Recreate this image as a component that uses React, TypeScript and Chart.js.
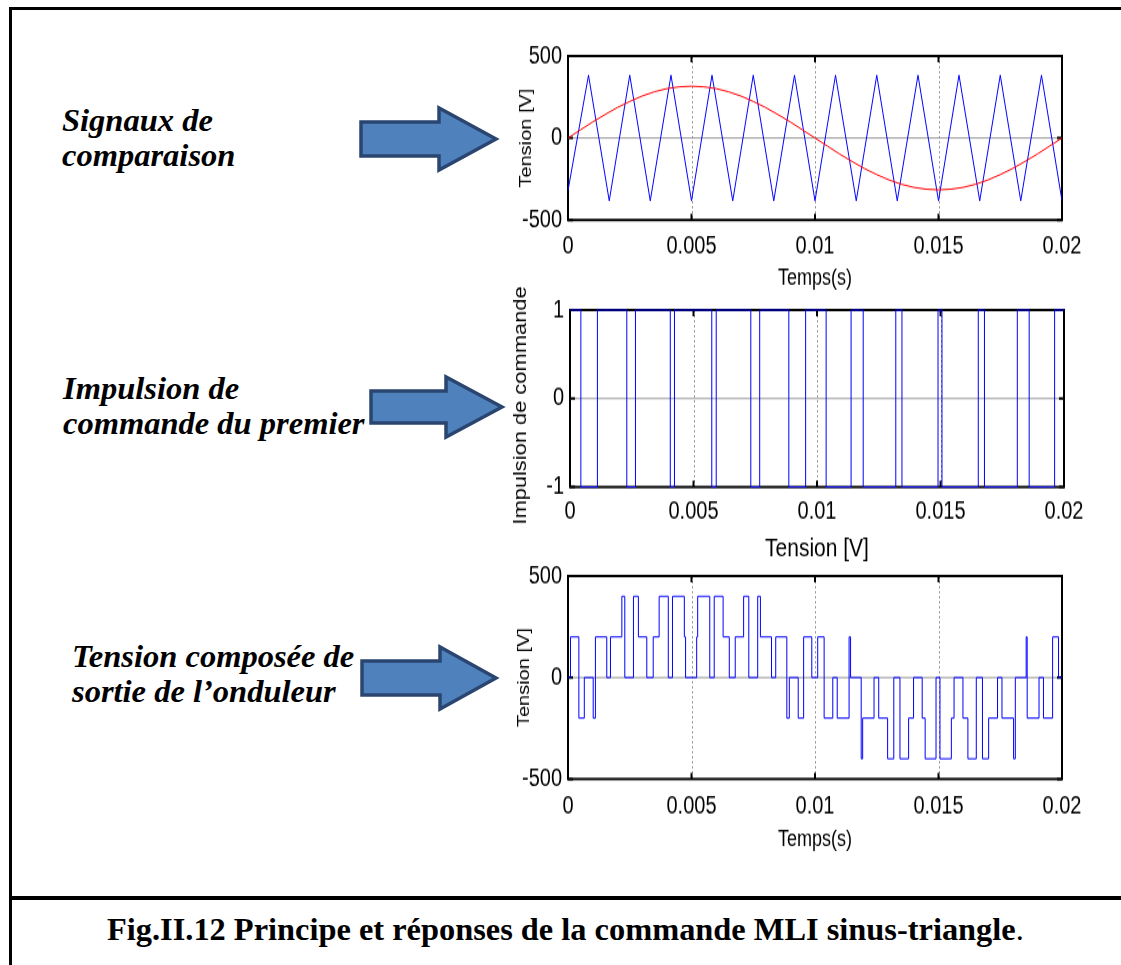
import React, { useEffect, useRef } from "react";
import { Chart, registerables } from "chart.js";

Chart.register(...registerables);

const SANS = "'Liberation Sans', Arial, Helvetica, sans-serif";
const SERIF = "'Liberation Serif', 'Times New Roman', Times, serif";

// Plots are drawn on a shorter canvas and stretched vertically on screen
const STRETCH = 1.25;

// Shared time axis (seconds)
const timeTicks = [0, 0.005, 0.01, 0.015, 0.02];
const timeTickLabels = ["0", "0.005", "0.01", "0.015", "0.02"];

// Panel 1: triangular carrier, vertices (ms, V)
const carrierTimesMs = [
  0, 0.83, 1.67, 2.5, 3.33, 4.17, 5, 5.83, 6.67, 7.5, 8.33, 9.17, 10,
  10.83, 11.67, 12.5, 13.33, 14.17, 15, 15.83, 16.67, 17.5, 18.33, 19.17, 20,
];
const carrierVolts = [
  -320, 383, -383, 383, -383, 383, -383, 383, -383, 383, -383, 383, -383,
  383, -383, 383, -383, 383, -383, 383, -383, 383, -383, 383, -383,
];

// Panel 1: sinusoidal reference (ms, V)
const referenceTimesMs = [
  0, 0.5, 1, 1.5, 2, 2.5, 3, 3.5, 4, 4.5, 5, 5.5, 6, 6.5, 7, 7.5, 8, 8.5, 9, 9.5,
  10, 10.5, 11, 11.5, 12, 12.5, 13, 13.5, 14, 14.5, 15, 15.5, 16, 16.5, 17, 17.5,
  18, 18.5, 19, 19.5, 20,
];
const referenceVolts = [
  0, 49, 98, 143, 186, 223, 256, 282, 301, 312, 316, 312, 301, 282, 256, 223,
  186, 143, 98, 49, 0, -49, -98, -143, -186, -223, -256, -282, -301, -312, -316,
  -312, -301, -282, -256, -223, -186, -143, -98, -49, 0,
];

// Panel 2: gate pulse of the first switch; each level holds until the next time (ms)
const pulseTimesMs = [
  0, 0.44, 1.11, 2.3, 2.65, 4.06, 4.23, 5.74, 5.92, 7.32, 7.68, 8.86, 9.54,
  10.37, 11.38, 11.87, 13.19, 13.44, 14.9, 15.06, 16.53, 16.78, 18.11, 18.59,
  19.62, 20,
];
const pulseLevels = [
  1, -1, 1, -1, 1, -1, 1, -1, 1, -1, 1, -1, 1,
  -1, 1, -1, 1, -1, 1, -1, 1, -1, 1, -1,
  1, 1,
];

// Panel 3: inverter output voltage; each level holds until the next time (ms, V)
const outputTimesMs = [
  0, 0.1, 0.44, 0.66, 1.02, 1.11, 1.57, 1.72, 2.18, 2.3, 2.65, 2.85, 3.19,
  3.45, 3.69, 4.06, 4.23, 4.71, 4.76, 5.21, 5.25, 5.74, 5.92, 6.28, 6.53,
  6.77, 7.11, 7.32, 7.68, 7.79, 8.24, 8.41, 8.86, 8.96, 9.32, 9.54, 9.87,
  10.11, 10.37, 10.72, 10.9, 11.38, 11.44, 11.87, 11.93, 12.39, 12.58, 12.94,
  13.19, 13.44, 13.79, 13.99, 14.34, 14.46, 14.9, 15.06, 15.52, 15.63, 15.99,
  16.19, 16.53, 16.78, 17.03, 17.39, 17.57, 18.04, 18.11, 18.55, 18.59, 19.07,
  19.25, 19.62, 19.86, 20,
];
const outputVolts = [
  0, 200, -200, 0, -200, 200, 0, 200, 400, 0, 400, 200, 0,
  200, 400, 0, 400, 200, 0, 200, 400, 0, 400, 200, 0,
  200, 400, 0, 400, 200, 0, 200, -200, 0, -200, 200, 0,
  200, -200, 0, -200, 200, 0, -400, -200, 0, -200, -400,
  0, -400, -200, 0, -200, -400, 0, -400, -200, 0, -200,
  -400, 0, -400, -200, 0, -200, -400, 0, 200, -200, 0,
  -200, 200, 0, 0,
];

const toPoints = (timesMs: number[], values: number[]) =>
  timesMs.map((t, i) => ({ x: t / 1000, y: values[i] }));

// Axes box, grid and inward tick marks drawn under the traces
const framePlugin = {
  id: "frame",
  beforeDatasetsDraw(chart: any) {
    const { ctx, chartArea: a, scales } = chart;
    const xs = scales.x;
    const ys = scales.y;
    const xVals: number[] = xs.ticks.map((t: any) => t.value);
    const yVals: number[] = ys.ticks.map((t: any) => t.value);
    ctx.save();
    ctx.lineWidth = 1;
    ctx.strokeStyle = "#9a9a9a";
    ctx.setLineDash([2, 2]);
    xVals.slice(1, -1).forEach((v) => {
      const px = Math.round(xs.getPixelForValue(v)) + 0.5;
      ctx.beginPath();
      ctx.moveTo(px, a.top);
      ctx.lineTo(px, a.bottom);
      ctx.stroke();
    });
    ctx.setLineDash([]);
    ctx.strokeStyle = "#7a7a7a";
    ctx.lineWidth = 0.8;
    yVals.slice(1, -1).forEach((v) => {
      const py = ys.getPixelForValue(v);
      ctx.beginPath();
      ctx.moveTo(a.left, py);
      ctx.lineTo(a.right, py);
      ctx.stroke();
    });
    ctx.strokeStyle = "#000";
    ctx.lineWidth = 2;
    ctx.strokeRect(a.left, a.top, a.right - a.left, a.bottom - a.top);
    const len = 5;
    ctx.beginPath();
    xVals.forEach((v) => {
      const px = xs.getPixelForValue(v);
      ctx.moveTo(px, a.bottom);
      ctx.lineTo(px, a.bottom - len);
      ctx.moveTo(px, a.top);
      ctx.lineTo(px, a.top + len);
    });
    yVals.forEach((v) => {
      const py = ys.getPixelForValue(v);
      ctx.moveTo(a.left, py);
      ctx.lineTo(a.left + len, py);
      ctx.moveTo(a.right, py);
      ctx.lineTo(a.right - len, py);
    });
    ctx.stroke();
    ctx.restore();
  },
};

// Rotated y-axis title, free to run past the plot height
const sideTitlePlugin = {
  id: "sideTitle",
  afterDraw(chart: any, _args: any, opts: any) {
    if (!opts || !opts.text) return;
    const { ctx, chartArea: a } = chart;
    ctx.save();
    ctx.font = `${opts.size}px ${SANS}`;
    ctx.fillStyle = "#000";
    ctx.textAlign = "center";
    ctx.textBaseline = "middle";
    ctx.translate(opts.x, (a.top + a.bottom) / 2 + (opts.dy || 0));
    ctx.rotate(-Math.PI / 2);
    ctx.fillText(opts.text, 0, 0);
    ctx.restore();
  },
};

// Vertical quantities below are screen pixels; they are divided by STRETCH for the canvas
type PanelSpec = {
  left: number;
  top: number;
  width: number;
  height: number;
  axisWidth: number;
  axisHeight: number;
  padRight: number;
  padTop: number;
  yMin: number;
  yMax: number;
  yStep: number;
  xTickCenter: number;
  xTitle: string;
  xTitleSize: number;
  xTitleCenter: number;
  yTitle: string;
  yTitleSize: number;
  yTitleX: number;
  yTitleDy: number;
  datasets: any[];
};

const TICK_SIZE = 20;
const tickFont = { family: SANS, size: TICK_SIZE };

function buildConfig(spec: PanelSpec): any {
  const s = STRETCH;
  const tickLine = TICK_SIZE * 1.2;
  const titleLine = spec.xTitleSize * 1.2;
  const xTickPad = spec.xTickCenter / s - tickLine / 2;
  const xTitlePad = spec.xTitleCenter / s - titleLine / 2;
  return {
    type: "line",
    data: { datasets: spec.datasets },
    plugins: [framePlugin, sideTitlePlugin],
    options: {
      animation: false,
      responsive: false,
      devicePixelRatio: 1,
      events: [],
      layout: { padding: { left: 0, right: spec.padRight, top: spec.padTop / s, bottom: 0 } },
      plugins: {
        legend: { display: false },
        tooltip: { enabled: false },
        sideTitle: { text: spec.yTitle, size: spec.yTitleSize, x: spec.yTitleX, dy: spec.yTitleDy / s },
      },
      scales: {
        x: {
          type: "linear",
          min: 0,
          max: 0.02,
          afterFit: (sc: any) => {
            sc.height = spec.axisHeight / s;
          },
          grid: { display: false, drawTicks: false },
          border: { display: false },
          ticks: {
            stepSize: 0.005,
            autoSkip: false,
            maxRotation: 0,
            padding: xTickPad,
            color: "#000",
            font: tickFont,
            callback: (v: number) => {
              const i = timeTicks.findIndex((t) => Math.abs(t - v) < 1e-9);
              return i >= 0 ? timeTickLabels[i] : "";
            },
          },
          title: {
            display: true,
            text: spec.xTitle,
            color: "#000",
            font: { family: SANS, size: spec.xTitleSize },
            padding: { top: 0, bottom: xTitlePad },
          },
        },
        y: {
          type: "linear",
          min: spec.yMin,
          max: spec.yMax,
          afterFit: (sc: any) => {
            sc.width = spec.axisWidth;
          },
          grid: { display: false, drawTicks: false },
          border: { display: false },
          ticks: { stepSize: spec.yStep, autoSkip: false, padding: 6, color: "#000", font: tickFont },
        },
      },
    },
  };
}

const lineStyle = { pointRadius: 0, borderWidth: 1, tension: 0, fill: false };

const panels: PanelSpec[] = [
  {
    left: 490, top: 31, width: 610, height: 265,
    axisWidth: 78, axisHeight: 76, padRight: 38, padTop: 25,
    yMin: -500, yMax: 500, yStep: 500,
    xTickCenter: 26, xTitle: "Temps(s)", xTitleSize: 18, xTitleCenter: 17,
    yTitle: "Tension [V]", yTitleSize: 16, yTitleX: 37, yTitleDy: 0,
    datasets: [
      { ...lineStyle, data: toPoints(referenceTimesMs, referenceVolts), borderColor: "#ff0000" },
      { ...lineStyle, data: toPoints(carrierTimesMs, carrierVolts), borderColor: "#0000ff" },
    ],
  },
  {
    left: 490, top: 280, width: 612, height: 285,
    axisWidth: 80, axisHeight: 78, padRight: 38, padTop: 30,
    yMin: -1, yMax: 1, yStep: 1,
    xTickCenter: 25, xTitle: "Tension [V]", xTitleSize: 21, xTitleCenter: 16,
    yTitle: "Impulsion de commande", yTitleSize: 17.5, yTitleX: 31, yTitleDy: 7,
    datasets: [
      { ...lineStyle, data: toPoints(pulseTimesMs, pulseLevels), borderColor: "#0000ff", stepped: true, clip: 6 },
    ],
  },
  {
    left: 490, top: 551, width: 610, height: 310,
    axisWidth: 78, axisHeight: 82, padRight: 38, padTop: 25,
    yMin: -500, yMax: 500, yStep: 500,
    xTickCenter: 27, xTitle: "Temps(s)", xTitleSize: 18, xTitleCenter: 21,
    yTitle: "Tension [V]", yTitleSize: 16, yTitleX: 35, yTitleDy: 0,
    datasets: [
      { ...lineStyle, data: toPoints(outputTimesMs, outputVolts), borderColor: "#0000ff", stepped: true },
    ],
  },
];

function Panel({ spec }: { spec: PanelSpec }) {
  const ref = useRef<HTMLCanvasElement>(null);
  useEffect(() => {
    if (!ref.current) return;
    const chart = new Chart(ref.current, buildConfig(spec));
    return () => chart.destroy();
  }, [spec]);
  return (
    <canvas
      ref={ref}
      width={spec.width}
      height={Math.round(spec.height / STRETCH)}
      style={{ position: "absolute", left: spec.left, top: spec.top, width: spec.width, height: spec.height }}
    />
  );
}

type ArrowSpec = { x0: number; xh: number; xt: number; yc: number; body: number; head: number };

const arrows: ArrowSpec[] = [
  { x0: 361, xh: 439, xt: 496, yc: 139, body: 34, head: 62 },
  { x0: 371, xh: 446, xt: 502, yc: 407, body: 32, head: 60 },
  { x0: 362, xh: 440, xt: 496, yc: 678, body: 34, head: 62 },
];

function arrowPoints(a: ArrowSpec) {
  const pts = [
    [a.x0, a.yc - a.body / 2],
    [a.xh, a.yc - a.body / 2],
    [a.xh, a.yc - a.head / 2],
    [a.xt, a.yc],
    [a.xh, a.yc + a.head / 2],
    [a.xh, a.yc + a.body / 2],
    [a.x0, a.yc + a.body / 2],
  ];
  return pts.map((p) => p.join(",")).join(" ");
}

const labelStyle = (left: number, top: number): React.CSSProperties => ({
  position: "absolute",
  left,
  top,
  font: `italic bold 32.5px ${SERIF}`,
  lineHeight: "35px",
  whiteSpace: "nowrap",
  color: "#000",
});

export default function App() {
  return (
    <div
      style={{
        position: "absolute",
        left: 0,
        top: 0,
        width: 1121,
        height: 965,
        background: "#fff",
        overflow: "hidden",
      }}
    >
      <div style={{ position: "absolute", left: 9, top: 7, width: 1112, height: 3, background: "#000" }} />
      <div style={{ position: "absolute", left: 9, top: 7, width: 3, height: 958, background: "#000" }} />
      <div style={{ position: "absolute", left: 9, top: 896, width: 1112, height: 4, background: "#000" }} />

      <div style={labelStyle(62, 103)}>
        Signaux de
        <br />
        comparaison
      </div>
      <div style={labelStyle(63, 371)}>
        Impulsion de
        <br />
        commande du premier
      </div>
      <div style={labelStyle(72, 639)}>
        Tension composée de
        <br />
        sortie de l’onduleur
      </div>

      <svg width={1121} height={965} style={{ position: "absolute", left: 0, top: 0 }}>
        {arrows.map((a, i) => (
          <polygon
            key={i}
            points={arrowPoints(a)}
            fill="#4f81bd"
            stroke="#2a4670"
            strokeWidth={3.5}
            strokeLinejoin="miter"
          />
        ))}
      </svg>

      {panels.map((p, i) => (
        <Panel key={i} spec={p} />
      ))}

      <div
        style={{
          position: "absolute",
          left: 107,
          top: 912,
          font: `bold 32.4px ${SERIF}`,
          lineHeight: "35px",
          whiteSpace: "nowrap",
          color: "#000",
        }}
      >
        Fig.II.12 Principe et réponses de la commande MLI sinus-triangle
        <span style={{ fontWeight: "normal" }}>.</span>
      </div>
    </div>
  );
}
